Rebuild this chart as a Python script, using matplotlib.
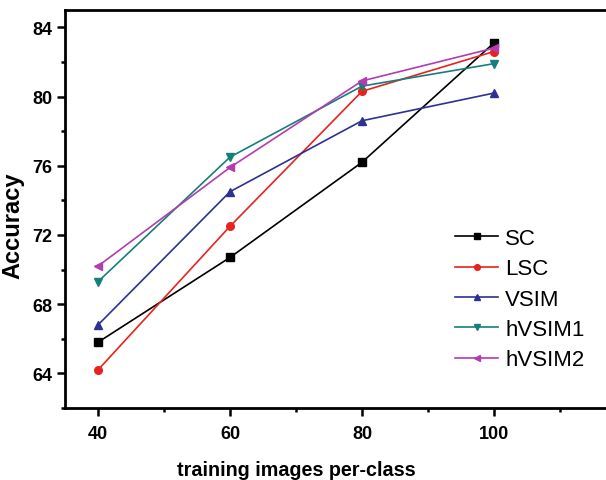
import matplotlib
matplotlib.use("Agg")
import matplotlib.pyplot as plt
from matplotlib.ticker import MultipleLocator

x = [40, 60, 80, 100]
sc = [65.8, 70.7, 76.2, 83.1]
lsc = [64.2, 72.5, 80.3, 82.6]
vsim = [66.8, 74.5, 78.6, 80.2]
hvsim1 = [69.3, 76.5, 80.6, 81.9]
hvsim2 = [70.2, 75.9, 80.9, 82.8]
labels = ["SC", "LSC", "VSIM", "hVSIM1", "hVSIM2"]
colors = ["#000000", "#e8231e", "#2e3192", "#157f7b", "#b23cb0"]
markers = ["s", "o", "^", "v", "<"]

plt.rcParams['font.family'] = ['Liberation Sans', 'DejaVu Sans']
fig = plt.figure(figsize=(6.06, 4.81), dpi=100)
ax = fig.add_axes([65/606, 72/481, (118-35)*6.6/606, 398/481])

for ys, lab, c, m in zip([sc, lsc, vsim, hvsim1, hvsim2], labels, colors, markers):
    ax.plot(x, ys, color=c, marker=m, markersize=5.5, linewidth=1.2, label=lab)

ax.set_xlim(35, 118)
ax.set_ylim(62, 85)
ax.xaxis.set_major_locator(MultipleLocator(20))
ax.xaxis.set_minor_locator(MultipleLocator(10))
ax.yaxis.set_major_locator(MultipleLocator(4))
ax.yaxis.set_minor_locator(MultipleLocator(2))
ax.tick_params(which='major', direction='out', length=5.5, width=1.8, labelsize=13)
ax.tick_params(axis='x', which='major', pad=7)
ax.tick_params(which='minor', direction='out', length=3, width=1.8)
for lab in ax.get_xticklabels() + ax.get_yticklabels():
    lab.set_fontweight('bold')
for s in ax.spines.values():
    s.set_linewidth(2)

ax.set_xlabel("training images per-class", fontsize=14.2, fontweight='bold')
ax.xaxis.set_label_coords(0.4217, -0.13)
ax.set_ylabel("Accuracy", fontsize=17, fontweight='bold')
ax.yaxis.set_label_coords(-0.075, 0.46)

ax.legend(loc='upper left', bbox_to_anchor=(0.712, 0.452), frameon=False,
          fontsize=16, handlelength=1.95, handletextpad=0.3, labelspacing=0.42,
          borderaxespad=0, borderpad=0, markerscale=0.75)

fig.savefig("out.png", dpi=100)
